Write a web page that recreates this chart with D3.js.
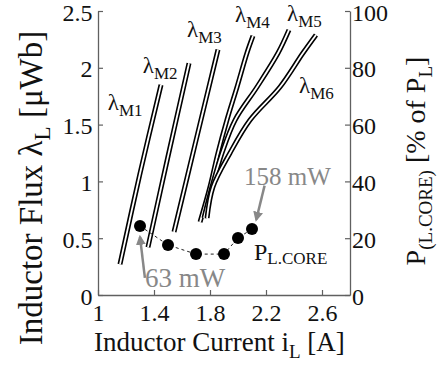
<!DOCTYPE html>
<html>
<head>
<meta charset="utf-8">
<script src="https://cdn.jsdelivr.net/npm/d3@7"></script>
<style>
  body { margin: 0; background: #fff; }
</style>
</head>
<body>
<div id="chart"></div>
<script>
// flux loops (centre line of each narrow loop), current [A] vs flux [uWb]
var loopNames = ["M1", "M2", "M3", "M4", "M5", "M6"];
var fluxM1 = [[1.157, 0.27], [1.30, 1.07], [1.45, 1.85]];
var fluxM2 = [[1.357, 0.42], [1.50, 1.22], [1.65, 2.04]];
var fluxM3 = [[1.543, 0.555], [1.70, 1.36], [1.857, 2.16]];
var fluxM4 = [[1.729, 0.643], [1.80, 0.951], [1.857, 1.25], [1.921, 1.54], [1.993, 1.831], [2.064, 2.13], [2.107, 2.28]];
var fluxM5 = [[1.757, 0.678], [1.814, 0.951], [1.886, 1.25], [1.979, 1.54], [2.136, 1.831], [2.286, 2.13], [2.364, 2.333]];
var fluxM6 = [[1.779, 0.678], [1.821, 0.951], [1.943, 1.25], [2.086, 1.54], [2.30, 1.831], [2.464, 2.13], [2.557, 2.289]];
var fluxLoops = [fluxM1, fluxM2, fluxM3, fluxM4, fluxM5, fluxM6];

// label anchor for each loop (current, flux)
var labelPos = [[1.07, 1.625], [1.32, 1.954], [1.636, 2.271], [1.979, 2.403], [2.35, 2.41], [2.436, 1.778]];

// core loss, % of inductor loss
var coreCurrent = [1.3, 1.5, 1.7, 1.9, 2.0, 2.1];
var corePct = [24.3, 17.6, 14.4, 14.4, 20.1, 23.2];

var xTicks = [1, 1.4, 1.8, 2.2, 2.6];
var yTicks = [0, 0.5, 1, 1.5, 2, 2.5];
var y2Ticks = [0, 20, 40, 60, 80, 100];

var FONT = "Liberation Serif";

var margin = {top: 11, right: 94, bottom: 72, left: 98},
  width = 444 - margin.left - margin.right,
  height = 367 - margin.top - margin.bottom;

var svg = d3.select("#chart").append("svg")
  .attr("width", 444)
  .attr("height", 367)
  .attr("font-family", FONT)
  .append("g")
  .attr("transform", "translate(" + margin.left + "," + margin.top + ")");

var x = d3.scaleLinear().domain([1, 2.8]).range([0, width]);
var y = d3.scaleLinear().domain([0, 2.5]).range([height, 0]);
var y2 = d3.scaleLinear().domain([0, 100]).range([height, 0]);

// axes, ticks pointing inward
function styleAxis(g) {
  g.attr("font-family", FONT).attr("font-size", 24);
  g.select(".domain").attr("stroke", "#606060").attr("stroke-width", 1.3);
  g.selectAll(".tick line").attr("stroke", "#606060").attr("stroke-width", 1.2);
  g.selectAll("text").attr("fill", "#111");
}

svg.append("g")
  .attr("transform", "translate(0," + height + ")")
  .call(d3.axisBottom(x).tickValues(xTicks).tickSize(-5).tickPadding(9).tickSizeOuter(0)
    .tickFormat(d3.format("")))
  .call(styleAxis);

svg.append("g")
  .call(d3.axisLeft(y).tickValues(yTicks).tickSize(-5).tickPadding(5.5).tickSizeOuter(0)
    .tickFormat(d3.format("")))
  .call(styleAxis)
  .selectAll("text").attr("dy", "0.38em");

svg.append("g")
  .attr("transform", "translate(" + width + ",0)")
  .call(d3.axisRight(y2).tickValues(y2Ticks).tickSize(-5).tickPadding(2).tickSizeOuter(0))
  .call(styleAxis)
  .selectAll("text").attr("dy", "0.38em");

// flux loops: thick black stroke with a white core so each reads as a narrow loop
var fluxLine = d3.line()
  .x(function(d) { return x(d[0]); })
  .y(function(d) { return y(d[1]); })
  .curve(d3.curveCatmullRom);

fluxLoops.forEach(function(pts) {
  svg.append("path").datum(pts)
    .attr("d", fluxLine)
    .attr("fill", "none")
    .attr("stroke", "#000")
    .attr("stroke-width", 5)
    .attr("stroke-linejoin", "round");
  svg.append("path").datum(pts)
    .attr("d", fluxLine)
    .attr("fill", "none")
    .attr("stroke", "#fff")
    .attr("stroke-width", 1.8);
});

loopNames.forEach(function(name, i) {
  var t = svg.append("text")
    .attr("x", x(labelPos[i][0]))
    .attr("y", y(labelPos[i][1]))
    .attr("font-size", 23)
    .attr("fill", "#111");
  t.append("tspan").text("\u03bb");
  t.append("tspan").attr("dy", 6).attr("font-size", 17).text(name);
});

// core loss points
var coreLine = d3.line()
  .x(function(d, i) { return x(coreCurrent[i]); })
  .y(function(d) { return y2(d); });

svg.append("path").datum(corePct)
  .attr("d", coreLine)
  .attr("fill", "none")
  .attr("stroke", "#222")
  .attr("stroke-width", 1)
  .attr("stroke-dasharray", "3,3");

svg.selectAll(".dot").data(corePct).enter().append("circle")
  .attr("class", "dot")
  .attr("cx", function(d, i) { return x(coreCurrent[i]); })
  .attr("cy", function(d) { return y2(d); })
  .attr("r", 6)
  .attr("fill", "#000");

var pl = svg.append("text")
  .attr("x", x(2.114))
  .attr("y", y2(12.3))
  .attr("font-size", 24)
  .attr("fill", "#111");
pl.append("tspan").text("P");
pl.append("tspan").attr("dy", 4).attr("font-size", 17).text("L.CORE");

// annotations in grey
var grey = "#888";
var defs = svg.append("defs");
defs.append("marker").attr("id", "ah")
  .attr("viewBox", "0 0 10 10").attr("refX", 8).attr("refY", 5)
  .attr("markerWidth", 4).attr("markerHeight", 4).attr("orient", "auto")
  .append("path").attr("d", "M0,0L10,5L0,10z").attr("fill", grey);

var arrows = [
  {from: [2.19, 38.5], to: [2.13, 26.5]},
  {from: [1.335, 6], to: [1.30, 20.5]}
];
arrows.forEach(function(a) {
  svg.append("line")
    .attr("x1", x(a.from[0])).attr("y1", y2(a.from[1]))
    .attr("x2", x(a.to[0])).attr("y2", y2(a.to[1]))
    .attr("stroke", grey).attr("stroke-width", 2.5)
    .attr("marker-end", "url(#ah)");
});

var notes = [
  {text: "158 mW", at: [2.043, 38.7], size: 25},
  {text: "63 mW", at: [1.336, 2.9], size: 27}
];
notes.forEach(function(n) {
  svg.append("text")
    .attr("x", x(n.at[0])).attr("y", y2(n.at[1]))
    .attr("font-size", n.size)
    .attr("fill", grey)
    .text(n.text);
});

// axis titles
var xt = svg.append("text")
  .attr("x", 94 - margin.left)
  .attr("y", 351 - margin.top)
  .attr("font-size", 27)
  .attr("fill", "#111");
xt.append("tspan").text("Inductor Current i");
xt.append("tspan").attr("dy", 7).attr("font-size", 19).text("L");
xt.append("tspan").attr("dy", -7).text(" [A]");

var yt = svg.append("text")
  .attr("transform", "translate(" + (42 - margin.left) + "," + (188 - margin.top) + ") rotate(-90)")
  .attr("text-anchor", "middle")
  .attr("font-size", 33)
  .attr("fill", "#111");
yt.append("tspan").text("Inductor Flux \u03bb");
yt.append("tspan").attr("dy", 8).attr("font-size", 23).text("L");
yt.append("tspan").attr("dy", -8).text(" [\u03bcWb]");

var y2t = svg.append("text")
  .attr("transform", "translate(" + (425 - margin.left) + "," + (161 - margin.top) + ") rotate(-90)")
  .attr("text-anchor", "middle")
  .attr("font-size", 28)
  .attr("fill", "#111");
y2t.append("tspan").text("P");
y2t.append("tspan").attr("dy", 7).attr("font-size", 19).text("(L.CORE)");
y2t.append("tspan").attr("dy", -7).text(" [% of P");
y2t.append("tspan").attr("dy", 7).attr("font-size", 19).text("L");
y2t.append("tspan").attr("dy", -7).text("]");
</script>
</body>
</html>
